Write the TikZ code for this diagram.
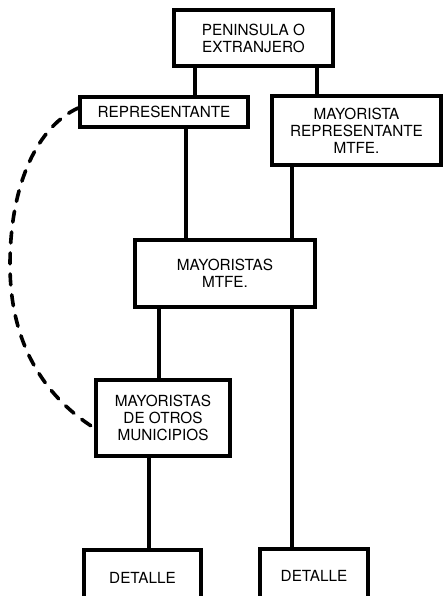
\documentclass[tikz,border=0pt]{standalone}
\usepackage{fontspec}
\setmainfont{TeX Gyre Heros}
\usetikzlibrary{calc}
\begin{document}
\begin{tikzpicture}[x=1pt,y=-1pt,
  box/.style={draw,line width=3.4pt,align=center,inner sep=0pt,
    font=\fontsize{15.3}{17}\selectfont},
  link/.style={line width=3.4pt},
  dashlink/.style={line width=3.6pt,line cap=round,dash pattern=on 11pt off 10pt}]
\useasboundingbox (0,0) rectangle (443,596);

% boxes
\node[box,minimum width=159pt,minimum height=56pt] (top) at (253.5,38) {PENINSULA O\\EXTRANJERO};
\node[box,minimum width=168pt,minimum height=30pt] (rep) at (164,112) {REPRESENTANTE};
\node[box,minimum width=169pt,minimum height=69pt] (mrep) at (356.5,130.5) {MAYORISTA\\REPRESENTANTE\\MTFE.};
\node[box,minimum width=180pt,minimum height=67pt] (mtfe) at (225,273.5) {MAYORISTAS\\MTFE.};
\node[box,minimum width=134pt,minimum height=76pt] (otros) at (163,418) {MAYORISTAS\\DE OTROS\\MUNICIPIOS};
\node[box,minimum width=117pt,minimum height=56pt] (detA) at (142.5,578) {DETALLE};
\node[box,minimum width=108pt,minimum height=54pt] (detB) at (314,576) {DETALLE};

% connectors
\draw[link] (top.south -| 195,0) -- (rep.north -| 195,0);
\draw[link] (top.south -| 317,0) -- (mrep.north -| 317,0);
\draw[link] (rep.south -| 186,0) -- (mtfe.north -| 186,0);
\draw[link] (mrep.south -| 292,0) -- (mtfe.north -| 292,0);
\draw[link] (mtfe.south -| 292,0) -- (detB.north -| 292,0);
\draw[link] (mtfe.south -| 159,0) -- (otros.north -| 159,0);
\draw[link] (otros.south -| 149,0) -- (detA.north -| 149,0);

% dashed link from the representative to the other municipalities
\draw[dashlink] ($(rep.west)+(0,-4)$) .. controls (40,125) and (10,180) .. (10,265)
  .. controls (10,350) and (50,400) .. ($(otros.west)+(0,10)$);
\end{tikzpicture}
\end{document}
